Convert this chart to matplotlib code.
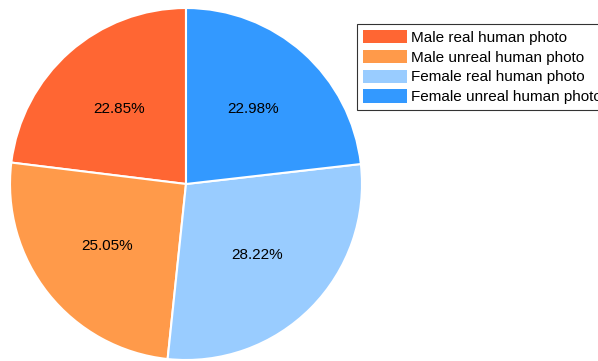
import matplotlib
matplotlib.use("Agg")
import matplotlib.pyplot as plt

plt.rcParams["font.family"] = ["Liberation Sans", "DejaVu Sans"]

labels = [
    "Male real human photo",
    "Male unreal human photo",
    "Female real human photo",
    "Female unreal human photo",
]
shares = [22.85, 25.05, 28.22, 22.98]
colors = ["#FF6633", "#FF9A4A", "#99CCFF", "#3399FF"]

W, H = 598, 361
fig = plt.figure(figsize=(W / 100, H / 100), dpi=100)

# pie axes placed in pixel terms: centre (186, 184), radius 176
cx, cy, r = 186, 184, 176
ax = fig.add_axes([(cx - r) / W, (H - cy - r) / H, 2 * r / W, 2 * r / H])
wedges, texts = ax.pie(
    shares,
    labels=[f"{v:.2f}%" for v in shares],
    colors=colors,
    startangle=90,
    counterclock=True,
    labeldistance=0.57,
    wedgeprops=dict(edgecolor="white", linewidth=1.5),
    textprops=dict(fontsize=11, color="black", ha="center", va="center"),
    radius=1.0,
)
for t in texts:
    t.set_horizontalalignment("center")
ax.set_xlim(-1, 1)
ax.set_ylim(-1, 1)
ax.set_aspect("equal")
ax.axis("off")

leg = fig.legend(
    wedges,
    labels,
    loc="upper left",
    bbox_to_anchor=(357 / W, 1 - 24 / H),
    fontsize=11,
    frameon=True,
    fancybox=False,
    edgecolor="black",
    handlelength=2.9,
    handleheight=0.95,
    handletextpad=0.25,
    labelspacing=0.33,
    borderpad=0.38,
    borderaxespad=0,
)
leg.get_frame().set_linewidth(0.8)
for h in leg.legend_handles:
    h.set_edgecolor("none")

fig.savefig("out.png", dpi=100)
